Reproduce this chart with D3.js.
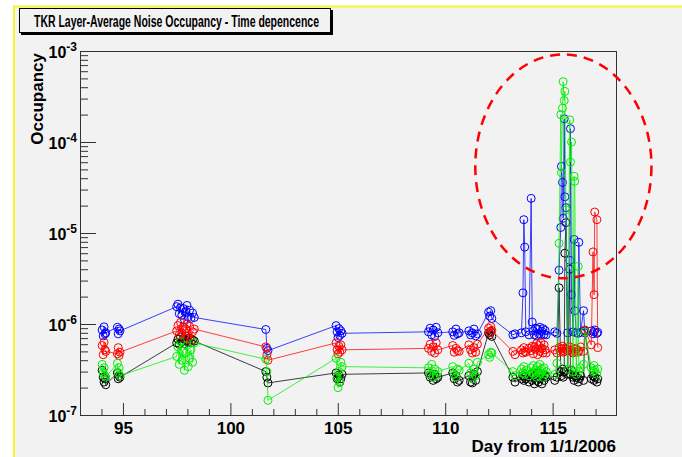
<!DOCTYPE html>
<html>
<head>
<meta charset="utf-8">
<style>
    body { margin: 0; background: #fff; }
    svg { display: block; font-family: "Liberation Sans", Arial, sans-serif; }
</style>
</head>
<body>
<svg id="chart" width="682" height="457"></svg>
<script src="https://d3js.org/d3.v7.min.js"></script>
<script>
    // day from 1/1/2006 of each run
    const days = [
        94.03, 94.08, 94.12, 94.16, 94.2,
        94.74, 94.78, 94.82, 94.86,
        97.5, 97.56, 97.62, 97.68, 97.74, 97.8, 97.86, 97.92, 97.98, 98.04, 98.1, 98.16, 98.24, 98.32,
        101.65, 101.7, 101.75,
        104.92, 104.97, 105.01, 105.05, 105.09, 105.14, 105.2,
        109.22, 109.3, 109.37, 109.44, 109.51, 109.58, 109.66,
        110.35, 110.42, 110.5, 110.57, 110.65,
        111.1, 111.18, 111.26, 111.34, 111.42, 111.5,
        112.02, 112.07, 112.12, 112.17,
        113.15, 113.25, 113.55, 113.62, 113.66, 113.7, 113.75, 113.9, 114.0, 114.05,
        114.1, 114.15, 114.2, 114.25, 114.3, 114.35, 114.4, 114.45, 114.5, 114.55, 114.6, 114.65, 114.7,
        115.1, 115.2, 115.3, 115.38, 115.41, 115.46, 115.49, 115.54, 115.57, 115.62, 115.7, 115.8, 115.83, 115.88, 115.95,
        116.0, 116.03, 116.1, 116.19, 116.22, 116.3, 116.44, 116.5,
        116.8, 116.88, 116.93, 116.96, 117.06, 117.1
    ];

    // layer-average occupancy, in units of 1e-7
    const blueOcc = [
        8.6, 7.4, 9.3, 7.8, 8.0,
        9.2, 7.8, 8.8, 8.4,
        15.5, 16.5, 13.0, 15.0, 12.5, 14.8, 11.2, 13.8, 16.0, 12.0, 14.2, 11.5, 13.2, 11.8,
        8.7, 5.4, 5.1,
        9.6, 8.2, 7.1, 8.9, 7.5, 8.4, 7.9,
        8.2, 9.0, 7.6, 8.6, 7.3, 9.2, 8.0,
        8.2, 7.5, 8.8, 7.8, 8.0,
        8.4, 7.6, 8.0, 8.8, 7.4, 7.8,
        13.5, 12.2, 14.0, 11.5,
        7.6, 7.8, 8.0, 22, 140, 70, 8.2, 7.6, 240, 10.5,
        8.4, 7.6, 9.0, 7.4, 8.8, 7.8, 9.2, 7.5, 8.3, 8.9, 7.7, 8.5, 7.6,
        8.2, 7.9, 39, 115, 540, 360, 145, 1800, 250, 190, 8.0, 50, 1400, 21, 8.2,
        85, 14, 8.0, 7.9, 79, 8.1, 14, 8.0,
        8.4, 7.8, 8.2, 8.6, 7.9, 8.1
    ];
    const redOcc = [
        5.8, 4.6, 6.3, 5.2, 5.0,
        4.7, 5.5, 4.5, 4.9,
        8.4, 9.6, 7.6, 10.4, 8.0, 9.2, 7.0, 8.8, 10.0, 7.4, 9.4, 6.6, 8.2, 8.8,
        5.6, 4.6, 4.0,
        6.2, 5.2, 4.7, 5.7, 4.9, 5.9, 5.2,
        5.4, 6.0, 5.0, 5.6, 4.8, 6.2, 5.2,
        5.8, 4.9, 5.4, 5.1, 5.0,
        5.9, 5.2, 4.8, 5.5, 4.9, 6.0,
        9.0, 8.0, 9.4, 8.5,
        5.0, 4.6, 5.2, 4.8, 5.5, 5.0, 4.9, 5.4, 5.1, 5.7,
        4.7, 5.6, 5.3, 6.1, 4.6, 5.8, 5.0, 6.3, 5.4, 4.8, 5.9, 5.2, 4.8,
        5.2, 4.8, 5.5, 5.0, 5.3, 5.7, 4.9, 5.4, 5.0, 5.3, 5.1, 5.6, 5.2, 5.0, 4.8,
        5.4, 5.0, 5.3, 4.9, 5.1, 5.6, 5.0, 8.6,
        5.9, 62, 21, 170, 140, 5.5
    ];
    const greenOcc = [
        3.6, 2.9, 3.3, 2.7, 2.6,
        3.7, 2.9, 3.3, 2.7,
        4.4, 5.6, 3.6, 6.4, 4.0, 5.0, 3.1, 4.8, 5.8, 3.4, 4.2, 5.2, 3.8, 6.2,
        4.1, 3.0, 1.45,
        4.2, 2.6, 2.0, 3.0, 2.3, 3.8, 3.4,
        3.3, 2.8, 3.6, 2.6, 3.2, 2.7, 3.0,
        3.4, 2.8, 2.6, 3.2, 3.1,
        3.7, 2.9, 2.5, 3.2, 2.7, 3.8,
        4.6, 4.3, 4.9, 4.8,
        3.0, 2.7, 3.2, 2.9, 3.4, 2.8, 3.1, 2.7, 3.3, 2.9,
        3.5, 2.8, 3.1, 2.6, 3.4, 2.7, 3.6, 2.9, 3.2, 2.6, 3.3, 2.8, 3.0,
        2.8, 3.7, 77, 2000, 460, 2350, 4600, 2850, 3600, 180, 3.2, 1750, 600, 1000, 3.0,
        420, 370, 2.8, 43, 3.0, 3.3, 3.6, 8.2,
        3.3, 3.0, 3.5, 3.1, 2.8, 3.2
    ];
    const blackOcc = [
        3.1, 2.6, 2.3, 2.5, 2.15,
        2.9, 2.5, 2.7, 2.6,
        6.2, 6.8, 6.0, 7.2, 6.4, 6.9, 6.1, 7.4, 6.6, 6.3, 7.0, 6.2, 6.7, 6.5,
        3.0, 2.6, 2.25,
        2.9, 2.5, 2.6, 2.75, 2.3, 2.5, 2.8,
        2.9, 2.6, 2.7, 2.4, 2.8, 2.5, 2.6,
        2.9, 2.5, 2.7, 2.3, 2.4,
        2.7, 2.3, 2.25, 2.8, 2.4, 3.0,
        8.0, 7.6, 8.3, 7.3,
        2.6, 2.3, 2.5, 2.7, 2.4, 2.6, 2.5, 2.3, 2.8, 2.4,
        2.6, 2.2, 2.7, 2.4, 2.9, 2.3, 2.5, 2.8, 2.2, 2.6, 2.4, 2.7, 2.6,
        2.4, 2.6, 25, 3.0, 2.7, 3.2, 2.6, 3.0, 60, 130, 2.8, 40, 2.8, 3.1, 2.6,
        2.4, 2.7, 2.6, 2.3, 2.5, 2.7, 2.4, 8.4,
        2.5, 2.7, 2.4, 2.6, 2.3, 2.5
    ];
    const occUnit = 1e-7;

    const dayTicks = [95, 100, 105, 110, 115];
    const decadeTicks = [1e-7, 1e-6, 1e-5, 1e-4, 1e-3];

    const titleText = "TKR Layer-Average Noise Occupancy - Time depencence";
    const xTitle = "Day from 1/1/2006";
    const yTitle = "Occupancy";

    // dashed ring drawn round the spikes, in data units
    const ring = {day: 115.5, occ: 5.4e-5, halfDays: 4.1, halfDecades: 1.23};

    // drawing order: black underneath
    const series = [
        {color: "#000000", values: blackOcc},
        {color: "#0000ff", values: blueOcc},
        {color: "#ff0000", values: redOcc},
        {color: "#00f000", values: greenOcc}
    ];

    const frame = {left: 80, right: 616, top: 51, bottom: 415};

    const svg = d3.select("#chart");

    // canvas background with the yellow window edge
    svg.append("rect").attr("x", 14).attr("y", 6).attr("width", 668).attr("height", 451)
        .attr("fill", "#f2f2f2");
    svg.append("line").attr("x1", 13).attr("x2", 682).attr("y1", 6.5).attr("y2", 6.5)
        .attr("stroke", "#f5f530").attr("stroke-width", 2);
    svg.append("line").attr("x1", 14).attr("x2", 14).attr("y1", 5.5).attr("y2", 457)
        .attr("stroke", "#f5f530").attr("stroke-width", 2);

    const x = d3.scaleLinear().domain([93, 117.95]).range([frame.left, frame.right]);
    const y = d3.scaleLog().domain([1e-7, 1e-3]).range([frame.bottom, frame.top]);

    // axes, ticks pointing into the frame
    const minorDays = d3.range(93, 118).filter(d => dayTicks.indexOf(d) < 0);
    const minorOcc = [];
    decadeTicks.slice(0, -1).forEach(d => {
        for (let k = 2; k <= 9; k++) minorOcc.push(d * k);
    });

    const xAxis = svg.append("g").attr("transform", `translate(0,${frame.bottom})`)
        .call(d3.axisBottom(x).tickValues(dayTicks).tickSize(-12).tickSizeOuter(0)
            .tickPadding(7).tickFormat(d3.format("d")));
    svg.append("g").attr("transform", `translate(0,${frame.bottom})`)
        .call(d3.axisBottom(x).tickValues(minorDays).tickSize(-6).tickSizeOuter(0).tickFormat(""));
    svg.append("g").attr("transform", `translate(${frame.left},0)`)
        .call(d3.axisLeft(y).tickValues(decadeTicks).tickSize(-16).tickSizeOuter(0).tickFormat(""));
    svg.append("g").attr("transform", `translate(${frame.left},0)`)
        .call(d3.axisLeft(y).tickValues(minorOcc).tickSize(-8).tickSizeOuter(0).tickFormat(""));

    svg.selectAll(".tick line, .domain").attr("stroke", "#333");
    xAxis.selectAll("text").attr("font-size", 17).attr("font-weight", "bold")
        .attr("font-family", "Liberation Sans, Arial, sans-serif").attr("fill", "#000");

    // y labels as 10 with a superscript exponent
    const yLabels = svg.append("g").attr("font-weight", "bold").attr("fill", "#000")
        .selectAll("text").data(decadeTicks).join("text")
        .attr("x", 77).attr("y", d => y(d) + 7).attr("text-anchor", "end")
        .attr("font-size", 16);
    yLabels.append("tspan").text("10");
    yLabels.append("tspan").attr("font-size", 12).attr("dy", -7)
        .text(d => "-" + Math.round(-Math.log10(d)));

    svg.append("rect")
        .attr("x", frame.left + 0.5).attr("y", frame.top + 0.5)
        .attr("width", frame.right - frame.left).attr("height", frame.bottom - frame.top)
        .attr("fill", "none").attr("stroke", "#333");

    // graphs: line then open circles
    const line = d3.line()
        .x((d, i) => x(days[i]))
        .y(d => y(d * occUnit));

    series.forEach(s => {
        const g = svg.append("g");
        g.append("path").datum(s.values).attr("d", line)
            .attr("fill", "none").attr("stroke", s.color).attr("stroke-width", 1)
            .attr("stroke-opacity", 0.75);
        g.selectAll("circle").data(s.values).join("circle")
            .attr("cx", (d, i) => x(days[i]))
            .attr("cy", d => y(d * occUnit))
            .attr("r", 4)
            .attr("fill", "none").attr("stroke", s.color).attr("stroke-width", 1);
    });

    // dashed ring
    svg.append("ellipse")
        .attr("cx", x(ring.day)).attr("cy", y(ring.occ))
        .attr("rx", x(ring.day + ring.halfDays) - x(ring.day))
        .attr("ry", y(ring.occ) - y(ring.occ * Math.pow(10, ring.halfDecades)))
        .attr("fill", "none").attr("stroke", "#ff0000").attr("stroke-width", 2.5)
        .attr("stroke-dasharray", "10,7");

    // axis titles
    svg.append("text").attr("x", frame.right).attr("y", 452).attr("text-anchor", "end")
        .attr("font-size", 17).attr("font-weight", "bold").text(xTitle);
    svg.append("text").attr("transform", `translate(43,${frame.top + 2}) rotate(-90)`)
        .attr("text-anchor", "end")
        .attr("font-size", 17).attr("font-weight", "bold").text(yTitle);

    // title box with shadow
    svg.append("rect").attr("x", 21).attr("y", 10).attr("width", 312).attr("height", 25)
        .attr("fill", "#000");
    svg.append("rect").attr("x", 19.5).attr("y", 8.5).attr("width", 311).attr("height", 24)
        .attr("fill", "#f2f2f2").attr("stroke", "#000");
    svg.append("text").attr("x", 34).attr("y", 27)
        .attr("font-size", 16).attr("font-weight", "bold")
        .attr("textLength", 285).attr("lengthAdjust", "spacingAndGlyphs")
        .text(titleText);
</script>
</body>
</html>
